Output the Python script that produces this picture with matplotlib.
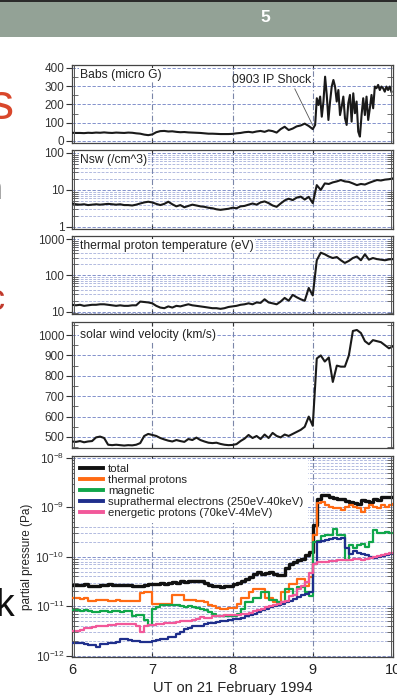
import numpy as np
import matplotlib
matplotlib.use("Agg")
import matplotlib.pyplot as plt
from matplotlib.patches import Rectangle
from matplotlib.lines import Line2D
from matplotlib.ticker import FixedLocator, LogLocator, NullFormatter, MultipleLocator, FixedFormatter

plt.rcParams['font.family'] = ['Liberation Sans', 'DejaVu Sans']
plt.rcParams['mathtext.fontset'] = 'custom'
plt.rcParams['mathtext.rm'] = 'Liberation Sans'
plt.rcParams['mathtext.it'] = 'Liberation Sans'

# ---------------- data (UT hours on 21 Feb 1994) ----------------
t_grid = np.linspace(6.0, 10.0, 81)          # 3-minute samples
t_b_pre = np.linspace(6.0, 9.0, 61)
t_b_post = np.linspace(9.03, 9.98, 47)

babs_pre = [45, 44, 44, 43, 45, 44, 46, 45, 47, 45, 44, 46, 45, 44, 46, 45, 42, 40, 35, 32,
            36, 48, 54, 55, 52, 53, 50, 48, 49, 47, 46, 45, 44, 42, 40, 40, 39, 38, 38, 38,
            39, 42, 44, 48, 50, 47, 52, 55, 50, 58, 54, 46, 65, 78, 60, 68, 80, 85, 95, 82, 65]
babs_post = [88, 234, 197, 243, 133, 216, 352, 252, 115, 216, 298, 334, 298, 216, 279, 142,
             188, 243, 124, 88, 207, 252, 106, 261, 152, 216, 51, 24, 142, 234, 142, 243,
             115, 179, 252, 179, 298, 289, 307, 279, 298, 289, 270, 298, 279, 298, 270]

nsw = [4.3, 4.1, 4.0, 4.1, 3.9, 4.0, 4.1, 4.0, 4.1, 4.2, 4.1, 4.0, 4.1, 3.9, 3.9, 3.8, 4.0,
       4.3, 4.6, 4.8, 4.6, 4.2, 3.9, 4.2, 4.8, 4.1, 3.6, 3.9, 3.4, 3.7, 4.0, 3.8, 3.6, 3.5,
       3.3, 3.2, 3.0, 2.9, 3.0, 3.1, 3.3, 3.2, 3.6, 3.7, 4.0, 4.3, 4.0, 4.6, 4.9, 4.4, 3.8,
       3.5, 4.3, 5.2, 5.8, 5.3, 6.2, 6.6, 5.5, 6.5, 4.4, 13.5, 10, 15, 14.5, 16, 17, 18.5,
       17, 16.5, 15, 13.5, 14.5, 14, 15.5, 17, 18.5, 18, 19, 19.5, 20.5]

temp = [15.5, 15, 15.5, 14.5, 15, 15.5, 15.5, 16, 16, 15.5, 15, 14.5, 15, 14.5, 14.5, 15,
        15, 19, 18.5, 18, 17, 14.5, 13, 12.5, 14, 13, 14.5, 14, 15, 16, 15, 14.5, 14, 13.5,
        13, 12.5, 12.5, 12, 12.5, 13.5, 14, 14.5, 15.5, 16, 17, 16, 18, 17.5, 22, 18, 17,
        16, 19, 24, 20, 29, 25, 22, 20, 45, 28, 260, 420, 380, 330, 300, 320, 260, 220, 250,
        300, 330, 260, 380, 270, 300, 280, 270, 260, 275, 280]

vsw = [478, 476, 480, 474, 478, 480, 498, 502, 495, 462, 460, 462, 460, 458, 460, 459, 462,
       470, 505, 515, 510, 505, 495, 488, 482, 478, 485, 480, 476, 490, 485, 497, 485, 478,
       472, 470, 472, 466, 462, 460, 461, 465, 480, 492, 510, 495, 505, 490, 512, 495, 520,
       505, 498, 512, 505, 515, 525, 535, 550, 600, 555, 885, 900, 870, 890, 770, 850, 845,
       845, 900, 1020, 1025, 1010, 970, 955, 975, 970, 965, 950, 935, 945]

# partial pressures in units of 1e-12 Pa
p_total = [27, 27, 27, 27.5, 25.5, 25.5, 26, 27, 27, 27.5, 27, 27, 26.5, 27, 27, 26, 25.5,
           26, 27, 27.5, 28.5, 28, 29, 28.5, 30, 31, 30, 33, 31, 32, 33, 32, 32, 29, 27, 26,
           25, 24.5, 25, 26, 28, 30, 33, 36, 39, 44, 49, 45, 46, 48, 44, 42, 42, 58, 70, 79,
           85, 92, 110, 125, 440, 1500, 1800, 1750, 1650, 1550, 1500, 1450, 1350, 1300, 1200,
           1150, 1400, 1350, 1300, 1450, 1400, 1600, 1650, 1600, 1650]
p_thermal = [14.5, 14.5, 14, 14.5, 13, 13, 13.5, 13.5, 13.5, 13, 13, 13.5, 13, 12.5, 12.5,
             12.5, 12.5, 18.5, 19, 19, 11, 11, 11, 11, 11, 16.5, 16.5, 16.5, 13.5, 13.5, 13.5,
             13, 13, 12, 10.5, 10, 9, 8.8, 8.8, 9, 9, 11, 14.5, 14.5, 19, 22, 22, 22, 14.5,
             14.5, 12, 12, 19, 19, 28, 28, 36, 36, 26, 39, 270, 1200, 1300, 1100, 1000, 950,
             950, 900, 1000, 1100, 1000, 950, 800, 950, 1100, 1000, 950, 1100, 1000, 1100, 1150]
p_magnetic = [8.2, 8.2, 8.0, 8.2, 8.0, 7.6, 7.6, 7.8, 7.8, 7.6, 7.8, 7.8, 7.6, 7.8, 7.8, 6.4,
              6.6, 6.6, 5.3, 4.2, 8.6, 9.5, 10.3, 10.7, 10.7, 10.3, 10.3, 10, 9.8, 10, 9.6,
              9.2, 8.9, 8.2, 7.6, 7, 6.4, 6.4, 6.2, 6.2, 6.2, 7.0, 8.9, 12, 12, 14.5, 14.5, 19,
              19, 13.5, 13.5, 12, 12, 22, 22, 17, 24, 24, 19, 16, 200, 210, 260, 270, 270, 370,
              270, 270, 85, 170, 150, 170, 180, 160, 200, 340, 300, 300, 310, 300, 300]
p_supra = [1.8, 1.8, 1.8, 1.7, 1.6, 1.6, 1.5, 1.7, 1.7, 1.8, 1.8, 1.9, 2.2, 2.2, 2.1, 2.0,
           2.0, 1.9, 1.9, 1.9, 2.0, 2.1, 2.2, 2.2, 2.4, 2.4, 2.7, 3.0, 3.4, 3.6, 3.9, 4.0, 4.0,
           4.3, 4.5, 4.6, 4.8, 4.9, 5.0, 5.2, 5.4, 5.6, 5.8, 6.2, 6.5, 7.0, 7.5, 8.2, 8.9, 9.5,
           10, 10.5, 11, 12, 13, 14, 15, 17, 18, 19, 70, 200, 210, 220, 230, 240, 230, 240,
           150, 115, 130, 120, 115, 110, 100, 95, 100, 105, 110, 115, 115]
p_energetic = [3.2, 3.2, 3.3, 3.6, 3.6, 3.7, 3.9, 3.9, 4.0, 4.1, 4.1, 4.3, 4.4, 4.4, 4.3, 4.4,
               3.9, 3.0, 3.9, 4.1, 4.2, 4.4, 4.4, 4.5, 4.6, 4.6, 4.7, 4.9, 5.0, 5.1, 5.3, 5.5,
               6.0, 5.8, 5.8, 6.2, 6.3, 6.4, 6.5, 6.6, 6.7, 6.7, 6.9, 7.0, 7.2, 7.8, 8.5, 8.9,
               9.5, 10, 10.5, 11, 12, 13, 16, 17, 22, 26, 31, 46, 72, 77, 78, 80, 82, 83, 84,
               85, 84, 85, 88, 90, 86, 88, 95, 100, 105, 110, 115, 118, 118]

pressure_series = [
    ("total", p_total, "#111111", 2.4),
    ("thermal protons", p_thermal, "#ff6a13", 1.6),
    ("magnetic", p_magnetic, "#10a64a", 1.6),
    ("suprathermal electrons (250eV-40keV)", p_supra, "#1f2f8c", 1.6),
    ("energetic protons (70keV-4MeV)", p_energetic, "#f2589a", 1.6),
]

# ---------------- figure ----------------
W, H = 397, 698
fig = plt.figure(figsize=(W / 100, H / 100), dpi=100)

# slide header bar
fig.patches.append(Rectangle((0, 1 - 37 / H), 1, 37 / H, transform=fig.transFigure,
                             facecolor="#93a296", edgecolor="none", zorder=0))
fig.patches.append(Rectangle((0, 1 - 2 / H), 1, 2 / H, transform=fig.transFigure,
                             facecolor="#2b2b2b", edgecolor="none", zorder=1))
fig.text(265 / W, 1 - 18 / H, "5", color="white", fontsize=12.5, fontweight="bold",
         ha="center", va="center")

# slide text peeking in at the left edge
fig.text(14 / W, 1 - 106 / H, "s", color="#d9472b", fontsize=36, ha="right", va="center")
fig.text(3 / W, 1 - 191 / H, "n", color="#a8a8a8", fontsize=22, ha="right", va="center")
fig.text(4 / W, 1 - 300 / H, "c", color="#c0392b", fontsize=26, ha="right", va="center")
fig.text(14 / W, 1 - 606 / H, "k", color="#111111", fontsize=27, ha="right", va="center")

LEFT, RIGHT = 72, 393
GRID_BLUE = "#6f80c4"
VGRID = "#7b86a8"
TICK_COL = "#333333"


def make_axes(top, bottom):
    ax = fig.add_axes([LEFT / W, 1 - bottom / H, (RIGHT - LEFT) / W, (bottom - top) / H])
    ax.set_xlim(6, 10)
    for s in ax.spines.values():
        s.set_color("#444444")
        s.set_linewidth(0.9)
    # doubled side frame
    for xf in (2.2 / (RIGHT - LEFT), 1 - 2.2 / (RIGHT - LEFT)):
        ax.add_line(Line2D([xf, xf], [0, 1], transform=ax.transAxes, color="#555555",
                           lw=0.7, zorder=5))
    ax.xaxis.set_major_locator(FixedLocator([6, 7, 8, 9, 10]))
    ax.tick_params(axis="y", which="major", direction="out", length=4, width=0.8,
                   colors=TICK_COL, labelsize=8.5, pad=1.5)
    ax.tick_params(axis="y", which="minor", direction="in", length=4, width=0.6,
                   colors="#555555", left=True, right=True)
    ax.tick_params(axis="x", which="major", direction="in", length=3, width=0.8,
                   colors=TICK_COL, top=True, bottom=True)
    for xv in (7, 8, 9):
        ax.axvline(xv, color=VGRID, lw=0.8, ls=(0, (5, 2, 1, 2)), zorder=1)
    return ax


def hgrid(ax, minor=False):
    ax.grid(True, axis="y", which="major", color=GRID_BLUE, lw=0.6, ls=(0, (4, 2)), zorder=0)
    if minor:
        ax.grid(True, axis="y", which="minor", color=GRID_BLUE, lw=0.5, ls=(0, (4, 2)),
                alpha=0.75, zorder=0)


def panel_label(ax, txt, yf=0.87):
    ax.text(0.025, yf, txt, transform=ax.transAxes, fontsize=8.7, color="#222222",
            ha="left", va="center", zorder=6,
            bbox=dict(facecolor="white", edgecolor="none", pad=0.8))


line_kw = dict(color="#1a1a1a", lw=1.5, zorder=4)

# --- panel 1: |B|
ax1 = make_axes(65, 143)
ax1.plot(np.concatenate([t_b_pre, t_b_post]), babs_pre + babs_post, **line_kw)
ax1.set_ylim(-11, 416)
ax1.yaxis.set_major_locator(FixedLocator([0, 100, 200, 300, 400]))
ax1.yaxis.set_minor_locator(MultipleLocator(50))
ax1.set_xticklabels([])
hgrid(ax1)
panel_label(ax1, "Babs (micro G)")
ax1.annotate("0903 IP Shock", xy=(9.0, 85), xytext=(7.99, 334), fontsize=8.7,
             color="#222222", ha="left", va="center", zorder=6,
             arrowprops=dict(arrowstyle="-", lw=0.6, color="#555555", shrinkA=0,
                             shrinkB=0, relpos=(0.78, 0.0)))

# --- panel 2: density
ax2 = make_axes(150, 229)
ax2.plot(t_grid, nsw, **line_kw)
ax2.set_yscale("log")
ax2.set_ylim(0.88, 120)
ax2.yaxis.set_major_locator(FixedLocator([1, 10, 100]))
ax2.yaxis.set_major_formatter(FixedFormatter(["1", "10", "100"]))
ax2.yaxis.set_minor_locator(LogLocator(base=10, subs=np.arange(2, 10)))
ax2.yaxis.set_minor_formatter(NullFormatter())
ax2.set_xticklabels([])
hgrid(ax2, minor=True)
panel_label(ax2, "Nsw (/cm^3)")

# --- panel 3: proton temperature
ax3 = make_axes(236, 314)
ax3.plot(t_grid, temp, **line_kw)
ax3.set_yscale("log")
ax3.set_ylim(8.65, 1210)
ax3.yaxis.set_major_locator(FixedLocator([10, 100, 1000]))
ax3.yaxis.set_major_formatter(FixedFormatter(["10", "100", "1000"]))
ax3.yaxis.set_minor_locator(LogLocator(base=10, subs=np.arange(2, 10)))
ax3.yaxis.set_minor_formatter(NullFormatter())
ax3.set_xticklabels([])
hgrid(ax3, minor=True)
panel_label(ax3, "thermal proton temperature (eV)")

# --- panel 4: solar wind speed
ax4 = make_axes(322, 448)
ax4.plot(t_grid, vsw, **line_kw)
ax4.set_ylim(446, 1064)
ax4.yaxis.set_major_locator(FixedLocator([500, 600, 700, 800, 900, 1000]))
ax4.yaxis.set_minor_locator(MultipleLocator(50))
ax4.set_xticklabels([])
hgrid(ax4)
panel_label(ax4, "solar wind velocity (km/s)", yf=0.9)

# --- panel 5: partial pressures
ax5 = make_axes(456, 657)
handles = []
for name, vals, col, lw in pressure_series:
    ax5.step(t_grid, np.array(vals) * 1e-12, where="post", color=col, lw=lw, zorder=4)
    handles.append(Line2D([], [], color=col, lw=2.8, label=name))
ax5.set_yscale("log")
ax5.set_ylim(10 ** -12.03, 10 ** -7.96)
ax5.yaxis.set_major_locator(FixedLocator([1e-12, 1e-11, 1e-10, 1e-9, 1e-8]))
ax5.yaxis.set_major_formatter(FixedFormatter([r"$10^{-12}$", r"$10^{-11}$", r"$10^{-10}$",
                                              r"$10^{-9}$", r"$10^{-8}$"]))
ax5.yaxis.set_minor_locator(LogLocator(base=10, subs=np.arange(2, 10)))
ax5.yaxis.set_minor_formatter(NullFormatter())
hgrid(ax5, minor=True)
ax5.set_xticks([6, 7, 8, 9, 10])
ax5.set_xticklabels(["6", "7", "8", "9", "10"])
ax5.tick_params(axis="x", labelsize=10.5, pad=4, labelcolor="#222222")
ax5.set_xlabel("UT on 21 February 1994", fontsize=10.5, color="#222222", labelpad=3)
ax5.set_ylabel("partial pressure (Pa)", fontsize=8.5, color="#222222", labelpad=2)
leg = ax5.legend(handles=handles, loc="upper left", fontsize=8.2, frameon=True,
                 facecolor="white", edgecolor="none", framealpha=1, fancybox=False,
                 handlelength=2.0, handletextpad=0.45, labelspacing=0.08,
                 borderaxespad=0.25, borderpad=0.45)
leg.set_zorder(7)
for txt in leg.get_texts():
    txt.set_color("#222222")

fig.savefig("out.png", dpi=100)
